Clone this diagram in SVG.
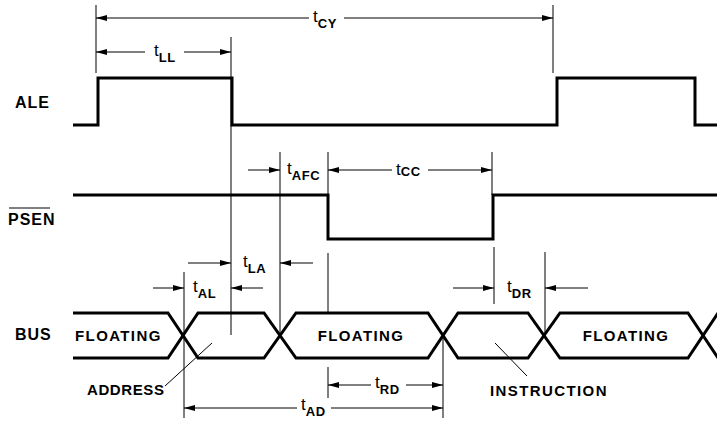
<svg xmlns="http://www.w3.org/2000/svg" width="717" height="422" viewBox="0 0 717 422">
<style>
.sig{fill:none;stroke:#000;stroke-width:3;stroke-linejoin:miter}
.ext{fill:none;stroke:#000;stroke-width:1}
.dim{fill:none;stroke:#000;stroke-width:1;marker-end:url(#ah)}
.lbl{font-family:"Liberation Sans",Arial,sans-serif;font-size:16px;font-weight:bold;letter-spacing:1px;fill:#000}
.bl{font-family:"Liberation Sans",Arial,sans-serif;font-size:15px;font-weight:bold;letter-spacing:1.4px;fill:#000}
.t{font-family:"Liberation Sans",Arial,sans-serif;font-size:17px;fill:#000}
.s{font-size:13px;font-weight:bold;letter-spacing:0.6px}
</style>
<defs>
<marker id="ah" markerUnits="userSpaceOnUse" markerWidth="11" markerHeight="6" refX="11" refY="3" orient="auto">
<path d="M0,0 L11,3 L0,6 z" fill="#000"/>
</marker>
</defs>
<rect width="717" height="422" fill="#fff"/>
<g id="ALE">
<text class="lbl" x="15" y="108">ALE</text>
<path class="sig" d="M73,125 L98,125 L98,78 L232,78 L232,125 L557,125 L557,78 L695,78 L695,125 L717,125"/>
</g>
<g id="PSEN">
<text class="lbl" x="8" y="225">PSEN</text>
<line class="ext" x1="9" y1="208" x2="50" y2="208"/>
<path class="sig" d="M73,195 L328,195 L328,239 L493,239 L493,195 L717,195"/>
</g>
<g id="BUS">
<text class="lbl" x="15" y="340">BUS</text>
<path class="sig" d="M73,313 L168,313 L198,358 L264,358 L296,313 L428,313 L458,358 L528,358 L560,313 L688,313 L718,358"/>
<path class="sig" d="M73,358 L168,358 L198,313 L264,313 L296,358 L428,358 L458,313 L528,313 L560,358 L688,358 L718,313"/>
<text class="bl" x="75" y="341">FLOATING</text>
<text class="bl" x="361" y="341" text-anchor="middle">FLOATING</text>
<text class="bl" x="626" y="341" text-anchor="middle">FLOATING</text>
<text class="bl" x="87" y="395" style="letter-spacing:0.6px">ADDRESS</text>
<text class="bl" x="490" y="396">INSTRUCTION</text>
</g>
<g id="connectors">
<line class="ext" x1="165" y1="386" x2="212" y2="343"/>
<line class="ext" x1="527" y1="376" x2="495" y2="343"/>
<line class="ext" x1="96" y1="5" x2="96" y2="73"/>
<line class="ext" x1="553" y1="5" x2="553" y2="73"/>
<line class="ext" x1="231" y1="37" x2="231" y2="335"/>
<line class="ext" x1="280" y1="152" x2="280" y2="337"/>
<line class="ext" x1="328" y1="152" x2="328" y2="195"/>
<line class="ext" x1="328" y1="253" x2="328" y2="313"/>
<line class="ext" x1="328" y1="367" x2="328" y2="398"/>
<line class="ext" x1="492" y1="152" x2="492" y2="195"/>
<line class="ext" x1="494" y1="247" x2="494" y2="304"/>
<line class="ext" x1="545" y1="252" x2="545" y2="335"/>
<line class="ext" x1="184" y1="272" x2="184" y2="418"/>
<line class="ext" x1="443" y1="335" x2="443" y2="418"/>
<line class="dim" x1="309" y1="18" x2="96" y2="18"/>
<line class="dim" x1="344" y1="18" x2="553" y2="18"/>
<line class="dim" x1="145" y1="52" x2="96" y2="52"/>
<line class="dim" x1="184" y1="52" x2="231" y2="52"/>
<line class="dim" x1="248" y1="170" x2="280" y2="170"/>
<line class="dim" x1="392" y1="170" x2="328" y2="170"/>
<line class="dim" x1="428" y1="170" x2="492" y2="170"/>
<line class="dim" x1="188" y1="263" x2="231" y2="263"/>
<line class="dim" x1="313" y1="263" x2="280" y2="263"/>
<line class="dim" x1="153" y1="288" x2="184" y2="288"/>
<line class="dim" x1="263" y1="288" x2="231" y2="288"/>
<line class="dim" x1="453" y1="288" x2="494" y2="288"/>
<line class="dim" x1="588" y1="288" x2="545" y2="288"/>
<line class="dim" x1="371" y1="385" x2="328" y2="385"/>
<line class="dim" x1="406" y1="385" x2="443" y2="385"/>
<line class="dim" x1="297" y1="408" x2="184" y2="408"/>
<line class="dim" x1="331" y1="408" x2="443" y2="408"/>
</g>
<g id="labels">
<text class="t" x="313" y="22">t<tspan class="s" dy="6">CY</tspan></text>
<text class="t" x="154" y="56">t<tspan class="s" dy="6">LL</tspan></text>
<text class="t" x="287" y="174">t<tspan class="s" dy="6">AFC</tspan></text>
<text class="t" x="396" y="175">t<tspan class="s" dy="1">CC</tspan></text>
<text class="t" x="243" y="267">t<tspan class="s" dy="6">LA</tspan></text>
<text class="t" x="193" y="292">t<tspan class="s" dy="6">AL</tspan></text>
<text class="t" x="507" y="292">t<tspan class="s" dy="6">DR</tspan></text>
<text class="t" x="375" y="388">t<tspan class="s" dy="6">RD</tspan></text>
<text class="t" x="301" y="410">t<tspan class="s" dy="6">AD</tspan></text>
</g>
</svg>
